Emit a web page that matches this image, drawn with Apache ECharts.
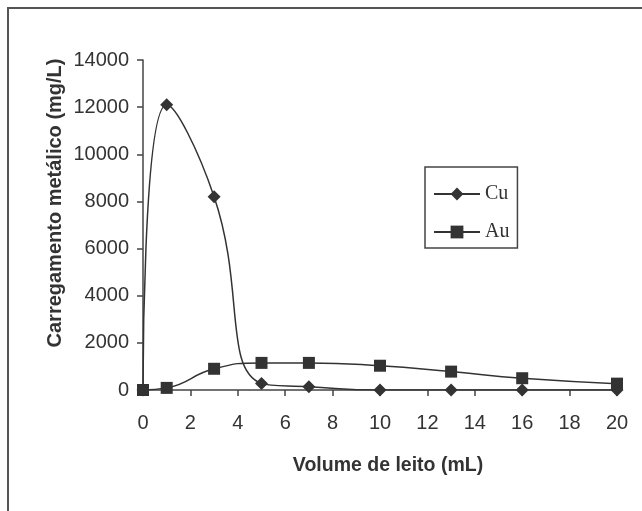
<!DOCTYPE html>
<html>
<head>
<meta charset="utf-8">
<script src="https://cdn.jsdelivr.net/npm/echarts@6/dist/echarts.min.js"></script>
<style>
  html, body { margin: 0; padding: 0; background: #fff; }
  #chart { width: 642px; height: 511px; }
</style>
</head>
<body>
<div id="chart"></div>
<script>
// Volume de leito (mL)
const volume = [0, 1, 3, 5, 7, 10, 13, 16, 20];
// carregamento metálico (mg/L)
const cu = [0, 12100, 8200, 280, 140, 0, 0, 0, 0];
const au = [0, 90, 900, 1150, 1150, 1030, 780, 500, 270];
const xTicks = [0, 2, 4, 6, 8, 10, 12, 14, 16, 18, 20];
const yTicks = [0, 2000, 4000, 6000, 8000, 10000, 12000, 14000];

const ink = '#333';
const myChart = echarts.init(document.getElementById('chart'));

function pairs(xs, ys) {
  return xs.map((x, i) => [x, ys[i]]);
}

myChart.setOption({
  animation: false,
  graphic: [{
    // moldura da figura (cortada à direita e em baixo)
    type: 'rect',
    shape: { x: 8, y: 8, width: 700, height: 600 },
    style: { fill: 'none', stroke: '#555', lineWidth: 2 },
    silent: true
  }],
  grid: { left: 143, right: 25, top: 60, bottom: 121 },
  legend: {
    orient: 'vertical',
    left: 425,
    top: 167,
    padding: [17, 8, 6, 8],
    itemWidth: 46,
    itemHeight: 16,
    itemGap: 18,
    borderColor: '#444',
    borderWidth: 1.5,
    textStyle: { fontFamily: 'Liberation Serif', fontSize: 20, color: ink },
    data: ['Cu', 'Au']
  },
  xAxis: {
    type: 'value',
    min: xTicks[0],
    max: xTicks[xTicks.length - 1],
    interval: 2,
    name: 'Volume de leito (mL)',
    nameLocation: 'middle',
    nameGap: 66,
    nameTextStyle: { fontFamily: 'Liberation Sans', fontWeight: 'bold', fontSize: 19.5, color: ink, padding: [0, 0, 0, 16] },
    axisLine: { lineStyle: { color: '#444', width: 1.5 } },
    axisTick: { show: true, inside: false, length: 6, lineStyle: { color: '#444', width: 1.5 } },
    axisLabel: { fontFamily: 'Liberation Sans', fontSize: 20, color: ink, margin: 23 },
    splitLine: { show: false }
  },
  yAxis: {
    type: 'value',
    min: yTicks[0],
    max: yTicks[yTicks.length - 1],
    interval: 2000,
    name: 'Carregamento metálico (mg/L)',
    nameLocation: 'middle',
    nameRotate: 90,
    nameGap: 78,
    nameMoveOverlap: false,
    nameTextStyle: { fontFamily: 'Liberation Sans', fontWeight: 'bold', fontSize: 20, color: ink, padding: [0, 0, 0, 44] },
    axisLine: { show: true, lineStyle: { color: '#444', width: 1.5 } },
    axisTick: { show: true, inside: false, length: 6, lineStyle: { color: '#444', width: 1.5 } },
    axisLabel: { fontFamily: 'Liberation Sans', fontSize: 20, color: ink, margin: 14, formatter: v => String(v) },
    splitLine: { show: false }
  },
  series: [
    {
      name: 'Cu',
      type: 'line',
      data: pairs(volume, cu),
      smooth: 0.5,
      symbol: 'diamond',
      symbolSize: 13,
      itemStyle: { color: ink },
      lineStyle: { color: ink, width: 1.5 },
      z: 3
    },
    {
      name: 'Au',
      type: 'line',
      data: pairs(volume, au),
      smooth: 0.5,
      symbol: 'rect',
      symbolSize: 12,
      itemStyle: { color: ink },
      lineStyle: { color: ink, width: 1.5 },
      z: 2
    }
  ]
});
</script>
</body>
</html>
